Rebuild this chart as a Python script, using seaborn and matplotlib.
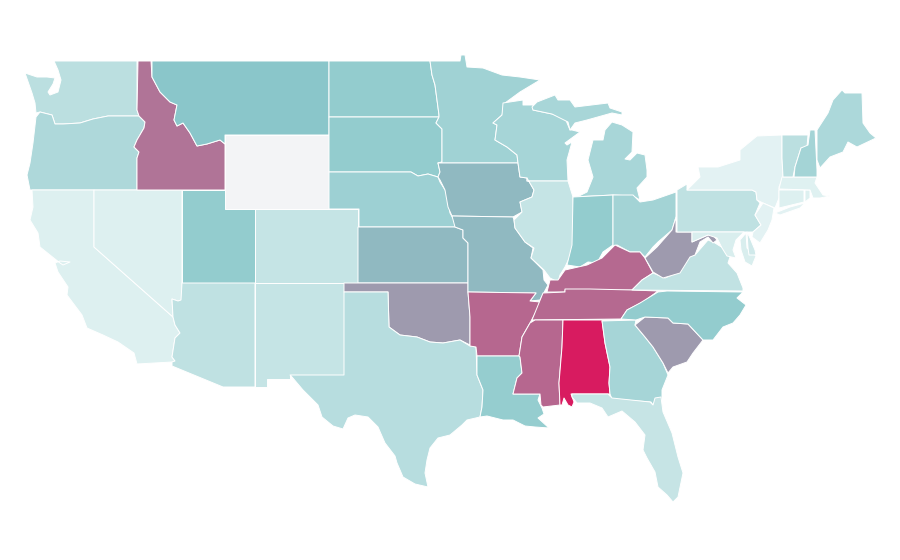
import matplotlib
matplotlib.use("Agg")
import matplotlib.pyplot as plt
from matplotlib.collections import PolyCollection
from matplotlib.colors import Normalize
import seaborn as sns

# Value per state (estimated from the fill colour, scale 0-100; Wyoming has no value)
states = ["WA","OR","CA","NV","ID","MT","WY","UT","AZ","CO","NM","ND","SD","NE","KS","OK","TX",
          "MN","IA","MO","AR","LA","WI","IL","MI","IN","OH","KY","TN","MS","AL","GA","FL","SC",
          "NC","VA","WV","PA","NY","NJ","MD","DE","CT","RI","MA","VT","NH","ME"]
values = [24,31,6,6,74,50,float("nan"),45,22,19,19,45,45,40,54,63,26,
          38,54,54,78,44,35,19,34,45,37,77,77,78,100,35,18,63,
          45,21,63,22,3,3,8,13,6,6,5,24,36,32]

# Simplified state outlines on the reference map's plane
outlines = {
"WA":[[(54,61),(137,61),(137,110),(139,116),(108,116),(93,119),(80,123),(63,124),(55,124),(52,115),(40,112),(36,113),(35,103),(32,93),(25,73),(37,77),(47,77),(55,78),(53,84),(48,92),(50,95),(58,92),(61,80),(58,70)]],
"OR":[[(40,112),(52,115),(55,124),(63,124),(80,123),(93,119),(108,116),(139,116),(145,122),(144,128),(137,140),(134,147),(139,152),(137,158),(137,190),(30,190),(27,175),(30,163),(33,143),(36,117)]],
"CA":[[(32,190),(94,190),(94,247),(173,317),(175,325),(180,333),(175,338),(172,357),(175,361),(172,362),(137,364),(134,353),(118,342),(103,335),(87,328),(82,315),(67,295),(68,287),(58,272),(55,263),(60,261),(70,262),(63,265),(60,263),(40,247),(38,233),(30,220),(33,207)]],
"NV":[[(94,190),(182,190),(182,300),(178,301),(172,299),(173,317),(94,247)]],
"ID":[[(138,61),(151,61),(152,77),(160,92),(170,102),(177,105),(174,120),(177,126),(183,123),(190,133),(197,146),(207,144),(220,140),(225,144),(225,190),(137,190),(137,158),(139,152),(134,147),(137,140),(144,128),(145,122),(139,116),(137,110)]],
"MT":[[(152,61),(329,61),(329,135),(225,135),(225,144),(220,140),(207,144),(197,146),(190,133),(183,123),(177,126),(174,120),(177,105),(170,102),(160,92),(152,77)]],
"WY":[[(225,135),(329,135),(329,209),(225,209)]],
"UT":[[(182,190),(225,190),(225,209),(255,209),(255,283),(182,283)]],
"AZ":[[(182,283),(255,283),(255,387),(223,387),(172,366),(172,362),(175,361),(172,357),(175,338),(180,333),(175,325),(173,317),(172,299),(178,301),(181,300)]],
"CO":[[(255,209),(358,209),(358,283),(255,283)]],
"NM":[[(255,283),(344,283),(344,375),(290,375),(290,379),(267,379),(267,387),(255,387)]],
"ND":[[(329,61),(430,61),(432,75),(435,85),(437,100),(439,115),(439,117),(329,117)]],
"SD":[[(329,117),(439,117),(436,123),(442,129),(442,162),(438,163),(440,172),(438,177),(428,174),(418,176),(411,172),(342,172),(329,172)]],
"NE":[[(329,172),(411,172),(418,176),(428,174),(438,177),(440,182),(447,193),(450,213),(458,227),(359,227),(359,209),(329,209)]],
"KS":[[(358,227),(455,227),(463,230),(463,238),(468,243),(468,283),(358,283)]],
"OK":[[(344,283),(468,283),(468,292),(470,317),(470,345),(460,340),(443,343),(430,342),(417,337),(400,335),(389,327),(388,292),(344,292)]],
"TX":[[(344,292),(388,292),(389,327),(400,335),(417,337),(430,342),(443,343),(460,340),(470,346),(476,347),(477,375),(483,390),(482,407),(480,417),(467,420),(462,425),(450,435),(438,438),(430,448),(427,460),(425,473),(428,487),(415,484),(403,477),(397,463),(395,456),(385,443),(378,427),(368,417),(355,415),(348,418),(343,429),(333,426),(322,417),(318,405),(303,390),(292,377),(290,375),(344,375)]],
"MN":[[(430,61),(460,61),(461,55),(465,55),(467,67),(483,68),(502,75),(520,77),(540,80),(520,92),(505,103),(502,115),(493,123),(497,125),(495,140),(507,147),(517,155),(518,163),(438,163),(442,162),(442,129),(436,123),(439,117),(439,115),(437,100),(435,85),(432,75)]],
"IA":[[(439,163),(518,163),(520,177),(527,178),(534,190),(532,197),(520,202),(522,212),(513,217),(452,216),(448,207),(445,190),(440,180),(438,177),(440,172),(438,163)]],
"MO":[[(452,216),(513,217),(514,220),(515,228),(525,242),(533,248),(531,258),(543,270),(544,280),(548,285),(540,300),(530,301),(536,293),(468,292),(468,243),(463,238),(463,230),(455,227)]],
"AR":[[(468,292),(536,293),(530,301),(540,302),(537,310),(530,323),(522,337),(519,356),(477,356),(476,347),(470,346),(470,317)]],
"LA":[[(477,356),(519,356),(520,357),(522,373),(517,378),(513,394),(540,394),(538,400),(542,408),(544,414),(538,418),(549,428),(535,427),(525,426),(513,420),(503,420),(487,416),(480,417),(482,407),(483,390),(477,375)]],
"WI":[[(503,103),(523,100),(523,105),(533,105),(533,110),(552,114),(565,118),(570,130),(572,130),(580,132),(565,143),(567,145),(572,142),(567,160),(568,181),(527,181),(527,178),(520,177),(518,163),(517,155),(507,147),(495,140),(497,125),(493,123),(502,115)]],
"IL":[[(527,181),(568,181),(573,197),(573,250),(565,267),(560,275),(558,282),(550,278),(544,270),(531,258),(534,248),(525,242),(515,228),(514,220),(522,212),(520,202),(532,197),(534,190),(527,178)]],
"MI":[[(573,197),(613,195),(633,196),(640,200),(637,188),(647,177),(647,170),(645,155),(637,153),(630,160),(625,159),(632,152),(633,132),(622,125),(612,122),(605,130),(603,140),(593,140),(588,160),(593,177),(587,192),(577,197)],
      [(532,107),(537,102),(555,95),(558,100),(570,100),(575,107),(608,103),(610,108),(622,112),(622,115),(612,113),(587,120),(575,123),(570,130),(568,122),(552,114),(533,110)]],
"IN":[[(573,197),(613,195),(613,245),(603,252),(597,263),(588,262),(580,267),(567,265),(572,245)]],
"OH":[[(613,195),(633,195),(640,202),(653,200),(676,192),(676,217),(672,230),(658,242),(653,247),(645,257),(640,252),(630,252),(617,245),(613,246)]],
"KY":[[(547,292),(550,280),(558,280),(565,270),(587,265),(602,258),(615,245),(630,252),(640,252),(645,258),(653,273),(642,280),(632,290),(565,290),(565,292)]],
"TN":[[(532,320),(543,293),(565,292),(565,289),(590,289),(632,290),(658,291),(643,302),(627,310),(621,319)]],
"MS":[[(535,320),(563,320),(562,347),(559,383),(560,405),(543,407),(541,405),(540,394),(513,394),(517,378),(522,373),(520,357),(519,356),(522,337),(530,323)]],
"AL":[[(563,320),(602,320),(605,343),(610,367),(609,383),(610,394),(571,394),(574,402),(572,407),(568,405),(564,398),(562,405),(560,405),(559,383),(562,347)]],
"GA":[[(602,321),(636,320),(635,325),(645,337),(653,347),(663,363),(668,375),(662,390),(662,400),(653,405),(651,402),(612,399),(610,394),(609,383),(610,367),(605,343)]],
"FL":[[(572,394),(608,394),(612,398),(650,402),(653,405),(655,398),(661,397),(663,412),(672,433),(678,457),(683,473),(678,497),(673,502),(667,495),(658,487),(655,472),(647,458),(643,450),(645,435),(635,422),(622,411),(608,417),(602,408),(590,403),(577,403),(572,397)]],
"SC":[[(635,325),(645,317),(668,318),(673,323),(688,324),(703,340),(693,353),(687,362),(673,367),(668,373),(663,363),(653,347),(645,337)]],
"NC":[[(621,319),(627,310),(640,303),(658,292),(667,291),(743,292),(737,298),(746,305),(740,315),(733,323),(723,327),(713,340),(703,340),(688,324),(673,323),(668,318),(645,317),(636,320)]],
"VA":[[(632,290),(642,280),(653,273),(665,278),(677,273),(687,257),(695,255),(708,240),(715,243),(723,248),(730,257),(728,263),(737,273),(743,288),(743,291)]],
"WV":[[(645,258),(657,247),(672,230),(676,217),(676,232),(692,232),(692,242),(708,235),(712,234),(717,240),(713,243),(708,237),(700,242),(695,255),(690,257),(680,273),(663,278),(653,272)]],
"PA":[[(677,190),(687,184),(687,190),(752,190),(756,192),(757,200),(760,203),(755,215),(761,225),(753,232),(677,232)]],
"NY":[[(687,190),(700,177),(698,167),(718,167),(740,160),(740,150),(757,136),(782,135),(782,158),(783,177),(779,187),(779,198),(775,208),(763,203),(757,200),(756,192),(752,190)],
      [(775,213),(790,207),(805,203),(800,208),(780,215)]],
"NJ":[[(763,203),(774,208),(772,220),(768,230),(760,243),(752,237),(753,232),(761,225),(755,215)]],
"MD":[[(692,232),(744,232),(736,240),(733,250),(736,258),(727,256),(722,248),(717,238),(708,235),(692,242)],
      [(746,233),(747,248),(756,256),(752,266),(745,262),(741,250),(740,240)]],
"DE":[[(747,232),(750,238),(755,250),(756,255),(749,255),(748,248)]],
"CT":[[(779,190),(804,190),(804,202),(779,208)]],
"RI":[[(805,190),(810,190),(810,198),(805,202)]],
"MA":[[(782,177),(817,177),(815,183),(823,195),(830,196),(820,198),(813,198),(810,190),(779,189)]],
"VT":[[(782,135),(808,135),(807,147),(801,148),(795,167),(793,177),(783,177),(782,158)]],
"NH":[[(810,130),(815,130),(817,170),(817,177),(794,177),(795,167),(801,148),(808,145)]],
"ME":[[(817,130),(828,113),(833,100),(842,90),(845,93),(862,93),(863,123),(870,133),(876,138),(857,147),(848,142),(843,152),(830,157),(820,168),(817,160)]],
}

sns.set_theme(style="white")
cmap = sns.blend_palette(["#e8f5f5", "#8ac7ca", "#d81b60"], as_cmap=True).with_extremes(bad="#f3f4f6")

polys, poly_values = [], []
for name, value in zip(states, values):
    for ring in outlines[name]:
        polys.append(ring)
        poly_values.append(value)

fig = plt.figure(figsize=(9, 5.6), dpi=100)
ax = fig.add_axes([0, 0, 1, 1])
coll = PolyCollection(polys, array=poly_values, cmap=cmap, norm=Normalize(0, 100),
                      edgecolors="white", linewidths=0.7)
ax.add_collection(coll)
ax.set_xlim(0, 900)
ax.set_ylim(560, 0)
ax.axis("off")
fig.savefig("out.png", dpi=100, facecolor="white")
